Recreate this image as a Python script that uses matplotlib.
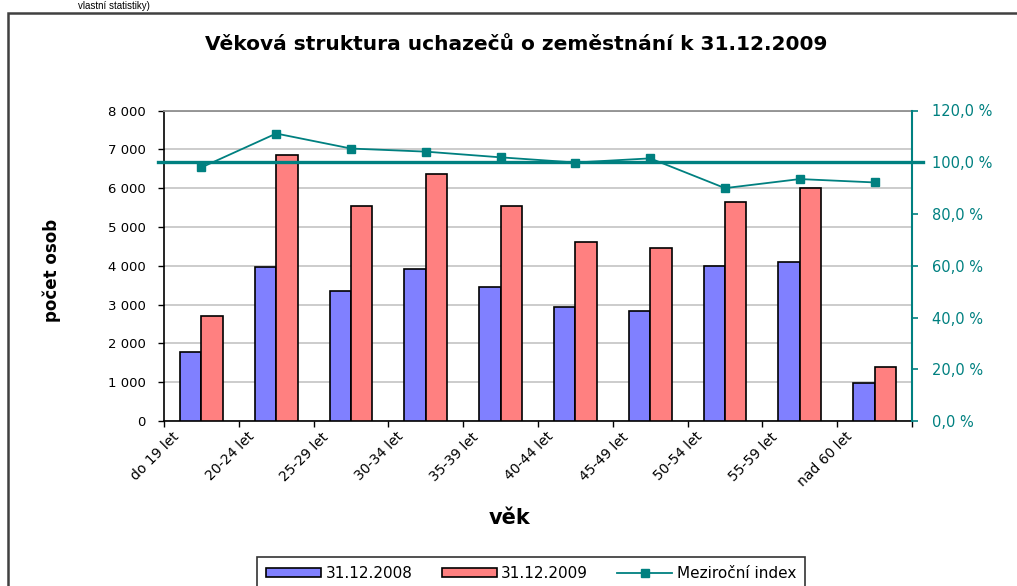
import numpy as np
import matplotlib
matplotlib.use("Agg")
import matplotlib.pyplot as plt
from matplotlib.patches import Rectangle
from matplotlib.lines import Line2D
from matplotlib.transforms import ScaledTranslation
from matplotlib.ticker import FuncFormatter

# ---- data ----
categories = ["do 19 let", "20-24 let", "25-29 let", "30-34 let", "35-39 let",
              "40-44 let", "45-49 let", "50-54 let", "55-59 let", "nad 60 let"]
values_2008 = [1770, 3960, 3350, 3910, 3450, 2930, 2840, 4000, 4090, 970]
values_2009 = [2700, 6850, 5530, 6370, 5530, 4610, 4470, 5630, 6000, 1390]
index_pct = [98.0, 111.1, 105.3, 104.1, 101.9, 99.9, 101.5, 90.0, 93.5, 92.2]
reference_pct = 100.0
series_labels = ["31.12.2008", "31.12.2009", "Meziroční index"]
title = "Věková struktura uchazečů o zeměstnání k 31.12.2009"

W, H = 1017, 586
fig = plt.figure(figsize=(W / 100, H / 100), dpi=100)
plt.rcParams['font.family'] = ['DejaVu Sans']

TEAL = "#008080"
BLUE = "#8080FF"
RED = "#FF8080"

def fx(px):
    return px / W

def fy(py):
    return 1 - py / H

ax = fig.add_axes([fx(164), fy(421), fx(912) - fx(164), fy(110.5) - fy(421)])
ax2 = ax.twinx()

x = np.arange(len(categories))
w = 1 / 3.5
ax.bar(x - w / 2, values_2008, width=w, color=BLUE, edgecolor="black", linewidth=1.2, zorder=3)
ax.bar(x + w / 2, values_2009, width=w, color=RED, edgecolor="black", linewidth=1.2, zorder=3)

ax.set_xlim(-0.5, len(categories) - 0.5)
ax.set_ylim(0, 8000)
ax.set_yticks(np.arange(0, 8001, 1000))
ax.yaxis.set_major_formatter(FuncFormatter(lambda v, p: f"{int(v):,}".replace(",", " ")))
ax.grid(axis="y", color="#c8c8c8", linewidth=1.3, zorder=0)
ax.set_axisbelow(True)

ax.set_xticks(np.arange(len(categories) + 1) - 0.5)
ax.set_xticklabels(categories + [""])
ax.tick_params(axis="x", direction="out", length=4.3, width=1, pad=2, labelsize=10)
ax.tick_params(axis="y", direction="out", length=4.3, width=1, pad=9, labelsize=9.5)
offset = ScaledTranslation(0.08, 0, fig.dpi_scale_trans)
for lbl in ax.get_xticklabels():
    lbl.set_rotation(45)
    lbl.set_ha("right")
    lbl.set_va("top")
    lbl.set_rotation_mode("anchor")
    lbl.set_transform(lbl.get_transform() + offset)

for s in ["left", "bottom"]:
    ax.spines[s].set_color("black")
    ax.spines[s].set_linewidth(1.2)
ax.spines["top"].set_color("#909090")
ax.spines["top"].set_linewidth(1.3)
ax.spines["right"].set_visible(False)

# secondary axis
ax2.set_ylim(0, 120)
ax2.set_yticks(np.arange(0, 121, 20))
ax2.yaxis.set_major_formatter(FuncFormatter(lambda v, p: f"{v:.1f}".replace(".", ",") + " %"))
ax2.tick_params(axis="y", direction="out", length=4.3, width=1.2, pad=10, labelsize=10.5,
                colors=TEAL)
for s in ["left", "bottom", "top"]:
    ax2.spines[s].set_visible(False)
ax2.spines["right"].set_color(TEAL)
ax2.spines["right"].set_linewidth(1.5)

ax2.plot(x, index_pct, color=TEAL, linewidth=1.3, marker="s", markersize=6,
         markerfacecolor=TEAL, markeredgecolor=TEAL, zorder=5)
xl = ax.get_xlim()
ax2.plot([xl[0] - 0.08, xl[1] + 0.15], [reference_pct, reference_pct], color=TEAL,
         linewidth=2.4, clip_on=False, zorder=4)
ax2.set_xlim(xl)

# texts
fig.text(fx(516), fy(44), title, ha="center", va="center", fontsize=14.5,
         fontweight="bold")
fig.text(fx(52), fy(270), "počet osob", rotation=90, ha="center", va="center",
         fontsize=12, fontweight="bold")
fig.text(fx(510), fy(518), "věk", ha="center", va="center", fontsize=15,
         fontweight="bold")
fig.text(fx(150), fy(1), "vlastní statistiky)", ha="right", va="top",
         fontsize=7, family=["Liberation Sans", "DejaVu Sans"])

# outer frame
fig.patches.append(Rectangle((fx(8), fy(13) - 1.2), 1.2, 1.2, transform=fig.transFigure,
                             fill=False, edgecolor="#404040", linewidth=1.8))

# legend
handles = [
    Rectangle((0, 0), 1, 1, facecolor=BLUE, edgecolor="black", linewidth=1.2),
    Rectangle((0, 0), 1, 1, facecolor=RED, edgecolor="black", linewidth=1.2),
    Line2D([0], [0], color=TEAL, linewidth=1.3, marker="s", markersize=6,
           markerfacecolor=TEAL, markeredgecolor=TEAL),
]
leg = fig.legend(handles, series_labels, loc="upper left",
                 bbox_to_anchor=(fx(257), fy(557)), ncol=3, fontsize=11,
                 frameon=True, fancybox=False, handlelength=3.6, handleheight=0.55,
                 handletextpad=0.3, columnspacing=1.9, borderpad=0.6,
                 borderaxespad=0)
leg.get_frame().set_edgecolor("black")
leg.get_frame().set_linewidth(1.2)

fig.savefig("out.png", dpi=100)
